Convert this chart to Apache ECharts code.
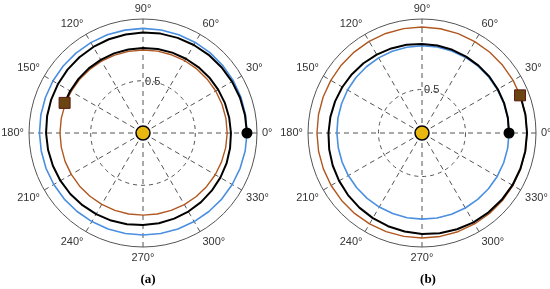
<!DOCTYPE html>
<html>
<head>
<meta charset="utf-8">
<script src="https://cdn.jsdelivr.net/npm/echarts@6/dist/echarts.min.js"></script>
<style>
    html, body { margin: 0; padding: 0; background: #fff; }
    #chart { width: 550px; height: 289px; }
</style>
</head>
<body>
<div id="chart"></div>
<script>
// sample angles (degrees) for the circular orbits
const circleAngles = [0, 10, 20, 30, 40, 50, 60, 70, 80, 90, 100, 110, 120, 130, 140, 150, 160, 170, 180,
    190, 200, 210, 220, 230, 240, 250, 260, 270, 280, 290, 300, 310, 320, 330, 340, 350, 360];

// (a) orbit lowering
const blueA = [0.995, 0.996, 0.997, 0.998, 0.999, 1.0, 1.0, 1.0, 1.0, 1.0, 0.999, 0.999, 0.998, 0.997, 0.996, 0.995, 0.993, 0.992, 0.99,
    0.988, 0.987, 0.985, 0.983, 0.98, 0.978, 0.977, 0.976, 0.975, 0.976, 0.977, 0.978, 0.98, 0.983, 0.985, 0.988, 0.992, 0.995];
const brownA = [0.805, 0.805, 0.804, 0.803, 0.801, 0.8, 0.798, 0.796, 0.795, 0.794, 0.793, 0.793, 0.793, 0.793, 0.794, 0.794, 0.794, 0.794, 0.794,
    0.793, 0.793, 0.792, 0.791, 0.789, 0.788, 0.787, 0.786, 0.785, 0.786, 0.788, 0.79, 0.793, 0.795, 0.798, 0.8, 0.803, 0.805];
const spiralAnglesA = [0, 10, 20, 30, 40, 50, 60, 70, 80, 90, 100, 110, 120, 130, 140, 150, 160, 170, 180,
    190, 200, 210, 220, 230, 240, 250, 260, 270, 280, 290, 300, 310, 320, 330, 340, 350, 360,
    370, 380, 390, 400, 410, 420, 430, 440, 450, 460, 470, 480, 490, 500, 510, 519];
const blackA = [0.994, 0.99, 0.987, 0.983, 0.979, 0.976, 0.972, 0.968, 0.965, 0.961, 0.957, 0.954, 0.95, 0.946, 0.942, 0.938, 0.934, 0.931, 0.927,
    0.922, 0.917, 0.912, 0.907, 0.901, 0.896, 0.891, 0.885, 0.88, 0.876, 0.871, 0.867, 0.863, 0.858, 0.854, 0.85, 0.845, 0.841,
    0.837, 0.834, 0.83, 0.827, 0.823, 0.82, 0.818, 0.815, 0.813, 0.811, 0.81, 0.808, 0.807, 0.805, 0.804, 0.803];
const startA = [0.994, 0];
const endA = [0.803, 159];

// (b) orbit raising
const blueB = [1.0, 1.0, 1.0, 1.0, 1.001, 1.002, 1.003, 1.003, 1.003, 1.003, 1.001, 0.999, 0.997, 0.994, 0.991, 0.988, 0.984, 0.981, 0.978,
    0.977, 0.977, 0.978, 0.979, 0.981, 0.983, 0.985, 0.988, 0.99, 0.992, 0.993, 0.995, 0.996, 0.997, 0.998, 0.999, 1.0, 1.0];
const brownB = [1.207, 1.207, 1.208, 1.209, 1.21, 1.212, 1.213, 1.215, 1.217, 1.218, 1.218, 1.217, 1.216, 1.214, 1.212, 1.21, 1.209, 1.208, 1.207,
    1.207, 1.206, 1.206, 1.206, 1.206, 1.206, 1.206, 1.206, 1.207, 1.207, 1.207, 1.207, 1.207, 1.207, 1.207, 1.207, 1.207, 1.207];
const spiralAnglesB = [0, 10, 20, 30, 40, 50, 60, 70, 80, 90, 100, 110, 120, 130, 140, 150, 160, 170, 180,
    190, 200, 210, 220, 230, 240, 250, 260, 270, 280, 290, 300, 310, 320, 330, 340, 350, 360, 370, 380, 381];
const blackB = [1.0, 1.002, 1.004, 1.006, 1.009, 1.011, 1.014, 1.017, 1.02, 1.023, 1.029, 1.034, 1.04, 1.046, 1.051, 1.057, 1.063, 1.069, 1.075,
    1.083, 1.092, 1.1, 1.11, 1.12, 1.13, 1.14, 1.15, 1.16, 1.169, 1.177, 1.185, 1.19, 1.195, 1.2, 1.203, 1.205, 1.207, 1.207, 1.207, 1.207];
const startB = [1.0, 0];
const endB = [1.207, 21];

const radiusMax = [1.09, 1.31];
const gridRadius = 0.5;
const captions = ['(a)', '(b)'];

const BLUE = '#4a8fe0';
const BROWN = '#b0561f';

const pts = (radii, angles) => radii.map((r, i) => [r, angles[i]]);

const chart = echarts.init(document.getElementById('chart'));

function polarAxes(i) {
    return {
        angle: {
            polarIndex: i,
            type: 'value',
            min: 0,
            max: 360,
            interval: 30,
            startAngle: 0,
            clockwise: false,
            axisLine: { lineStyle: { color: '#555', width: 1 } },
            axisTick: { show: false },
            axisLabel: {
                margin: 5,
                color: '#333',
                fontSize: 11,
                fontFamily: 'Liberation Sans',
                formatter: v => (v === 360 ? '' : v + '°')
            },
            splitLine: { show: true, lineStyle: { color: '#555', width: 1, type: [5, 4] } }
        },
        radius: {
            polarIndex: i,
            type: 'value',
            min: 0,
            max: radiusMax[i],
            interval: gridRadius,
            axisLine: { show: false },
            axisTick: { show: false },
            axisLabel: { show: false },
            splitLine: {
                show: true,
                lineStyle: { color: ['transparent', '#555', 'transparent', 'transparent'], width: 1, type: [4, 4] }
            }
        }
    };
}

function lineSeries(i, data, color, width, z) {
    return {
        type: 'line',
        coordinateSystem: 'polar',
        polarIndex: i,
        data: data,
        smooth: false,
        showSymbol: false,
        lineStyle: { color: color, width: width },
        z: z
    };
}

function markers(i, start, end) {
    return [
        {
            type: 'scatter', coordinateSystem: 'polar', polarIndex: i,
            data: [[0, 0]], symbol: 'circle', symbolSize: 14,
            itemStyle: { color: '#e8b810', borderColor: '#000', borderWidth: 1.5, opacity: 1 }, z: 10
        },
        {
            type: 'scatter', coordinateSystem: 'polar', polarIndex: i,
            data: [start], symbol: 'circle', symbolSize: 11,
            itemStyle: { color: '#000', opacity: 1 }, z: 10
        },
        {
            type: 'scatter', coordinateSystem: 'polar', polarIndex: i,
            data: [end], symbol: 'rect', symbolSize: 11,
            itemStyle: { color: '#6a4512', borderColor: '#5a1a10', borderWidth: 1, opacity: 1 }, z: 10
        }
    ];
}

const axA = polarAxes(0);
const axB = polarAxes(1);

chart.setOption({
    animation: false,
    backgroundColor: '#fff',
    title: captions.map((c, i) => ({
        text: c,
        left: i === 0 ? 143 : 423,
        top: 268,
        textAlign: 'center',
        textStyle: { fontSize: 13, fontWeight: 'bold', fontFamily: 'Liberation Serif', color: '#000' }
    })),
    polar: [
        { center: [143, 133], radius: 114 },
        { center: [422, 133], radius: 114 }
    ],
    angleAxis: [axA.angle, axB.angle],
    radiusAxis: [axA.radius, axB.radius],
    graphic: [
        { type: 'text', left: 145, top: 76, style: { text: '0.5', fontSize: 11, fontFamily: 'Liberation Sans', fill: '#333' } },
        { type: 'text', left: 424, top: 84, style: { text: '0.5', fontSize: 11, fontFamily: 'Liberation Sans', fill: '#333' } }
    ],
    series: [
        lineSeries(0, pts(blueA, circleAngles), BLUE, 1.6, 2),
        lineSeries(0, pts(brownA, circleAngles), BROWN, 1.4, 3),
        lineSeries(0, pts(blackA, spiralAnglesA), '#000', 2, 4),
        ...markers(0, startA, endA),
        lineSeries(1, pts(blueB, circleAngles), BLUE, 1.6, 2),
        lineSeries(1, pts(brownB, circleAngles), BROWN, 1.4, 3),
        lineSeries(1, pts(blackB, spiralAnglesB), '#000', 2, 4),
        ...markers(1, startB, endB)
    ]
});
</script>
</body>
</html>
